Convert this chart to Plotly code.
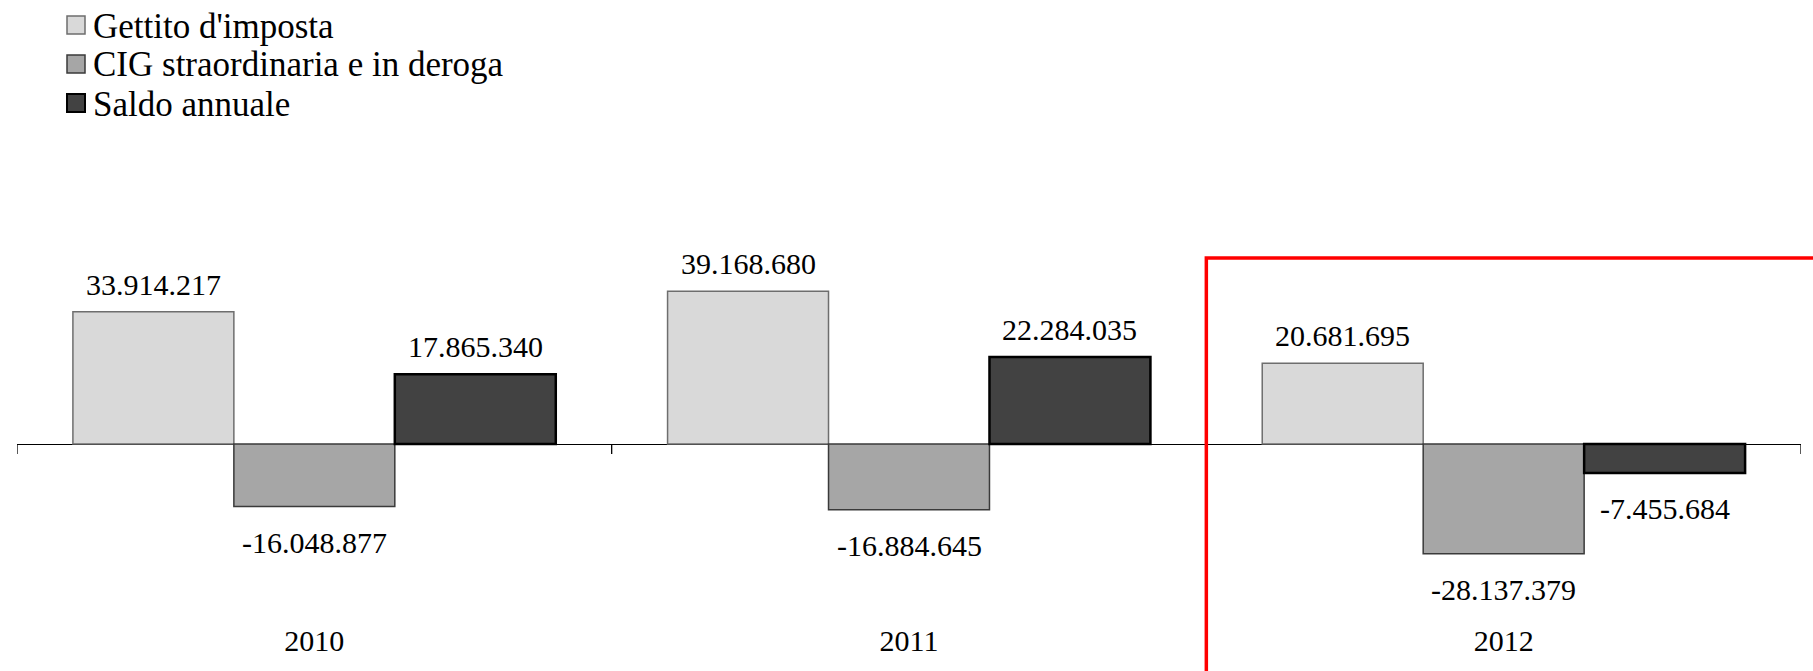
import plotly.graph_objects as go

years = ["2010", "2011", "2012"]
series_names = ["Gettito d'imposta", "CIG straordinaria e in deroga", "Saldo annuale"]
gettito = [33914217, 39168680, 20681695]
cig = [-16048877, -16884645, -28137379]
saldo = [17865340, 22284035, -7455684]

fills = ["#d9d9d9", "#a6a6a6", "#424242"]
edges = ["#6e6e6e", "#3a3a3a", "#000000"]
edge_w = [1.5, 1.5, 2.5]

W, H = 1813, 671
ML, MR, MT, MB = 17, 12, 230, 51
ZERO_PX = 444
PX_PER_UNIT = 3.9 / 1e6
BARGAP = 0.188

plot_w = W - ML - MR
plot_h = H - MT - MB
y_top = (ZERO_PX - MT) / PX_PER_UNIT
y_bot = -((H - MB) - ZERO_PX) / PX_PER_UNIT

FONT = "Liberation Serif, Times New Roman, serif"


def it_fmt(v):
    s = f"{abs(v):,}".replace(",", ".")
    return ("-" if v < 0 else "") + s


def px_x(px):
    return (px - ML) / plot_w


def px_y(py):
    return (H - MB - py) / plot_h


fig = go.Figure()
all_series = [gettito, cig, saldo]
for name, vals, fc, ec, lw in zip(series_names, all_series, fills, edges, edge_w):
    fig.add_trace(go.Bar(
        x=years, y=vals, name=name,
        marker=dict(color=fc, line=dict(color=ec, width=lw)),
        hoverinfo="skip", showlegend=False,
    ))

# value labels
nser = len(all_series)
w = (1 - BARGAP) / nser
annotations = []
for j, vals in enumerate(all_series):
    for i, v in enumerate(vals):
        xpos = i + (j - (nser - 1) / 2) * w
        annotations.append(dict(
            x=xpos, y=v, xref="x", yref="y",
            text=it_fmt(v), showarrow=False,
            font=dict(family=FONT, size=30, color="#000000"),
            yanchor="bottom" if v >= 0 else "top",
            yshift=9 if v >= 0 else -17,
        ))

shapes = []
# axis ticks at category boundaries on the zero line
for k in range(len(years) + 1):
    shapes.append(dict(
        type="line", xref="x", yref="y", x0=k - 0.5, x1=k - 0.5,
        ysizemode="pixel", yanchor=0, y0=0, y1=-10,
        line=dict(color="#000000", width=1.3), layer="above",
    ))

# legend (top-left), drawn as squares + text
LEG_ROW0, LEG_STEP = 25, 39
for j, (name, fc, ec) in enumerate(zip(series_names, fills, edges)):
    cy = LEG_ROW0 + j * LEG_STEP
    shapes.append(dict(
        type="rect", xref="paper", yref="paper",
        x0=px_x(67), x1=px_x(85), y0=px_y(cy + 9), y1=px_y(cy - 9),
        fillcolor=fc, line=dict(color=ec if j < 2 else "#000000", width=1.5 if j < 2 else 2),
    ))
    annotations.append(dict(
        x=px_x(91), y=px_y(cy + 1), xref="paper", yref="paper",
        xanchor="left", yanchor="middle", text=name, showarrow=False,
        font=dict(family=FONT, size=35, color="#000000"),
    ))

# red highlight frame around 2012
shapes.append(dict(
    type="rect", xref="paper", yref="paper",
    x0=2 / 3, x1=1.3, y0=-0.6, y1=px_y(258),
    line=dict(color="#ff0000", width=3.5), fillcolor="rgba(0,0,0,0)", layer="above",
))

fig.update_layout(
    width=W, height=H,
    margin=dict(l=ML, r=MR, t=MT, b=MB, autoexpand=False),
    paper_bgcolor="white", plot_bgcolor="white",
    barmode="group", bargap=BARGAP, bargroupgap=0,
    font=dict(family=FONT, size=30, color="#000000"),
    xaxis=dict(
        type="category", range=[-0.5, 2.5], showgrid=False, showline=False,
        ticks="", tickfont=dict(family=FONT, size=30, color="#000000"),
        fixedrange=True, automargin=False,
    ),
    yaxis=dict(
        range=[y_bot, y_top], visible=True, showgrid=False, showticklabels=False,
        zeroline=True, zerolinecolor="#000000", zerolinewidth=1.3, ticks="",
        showline=False, fixedrange=True, automargin=False,
    ),
    annotations=annotations,
    shapes=shapes,
    showlegend=False,
)

fig.write_html(
    "out.html",
    config={"displayModeBar": False},
    post_script="document.body.style.margin='0';document.body.style.overflow='hidden';",
)
